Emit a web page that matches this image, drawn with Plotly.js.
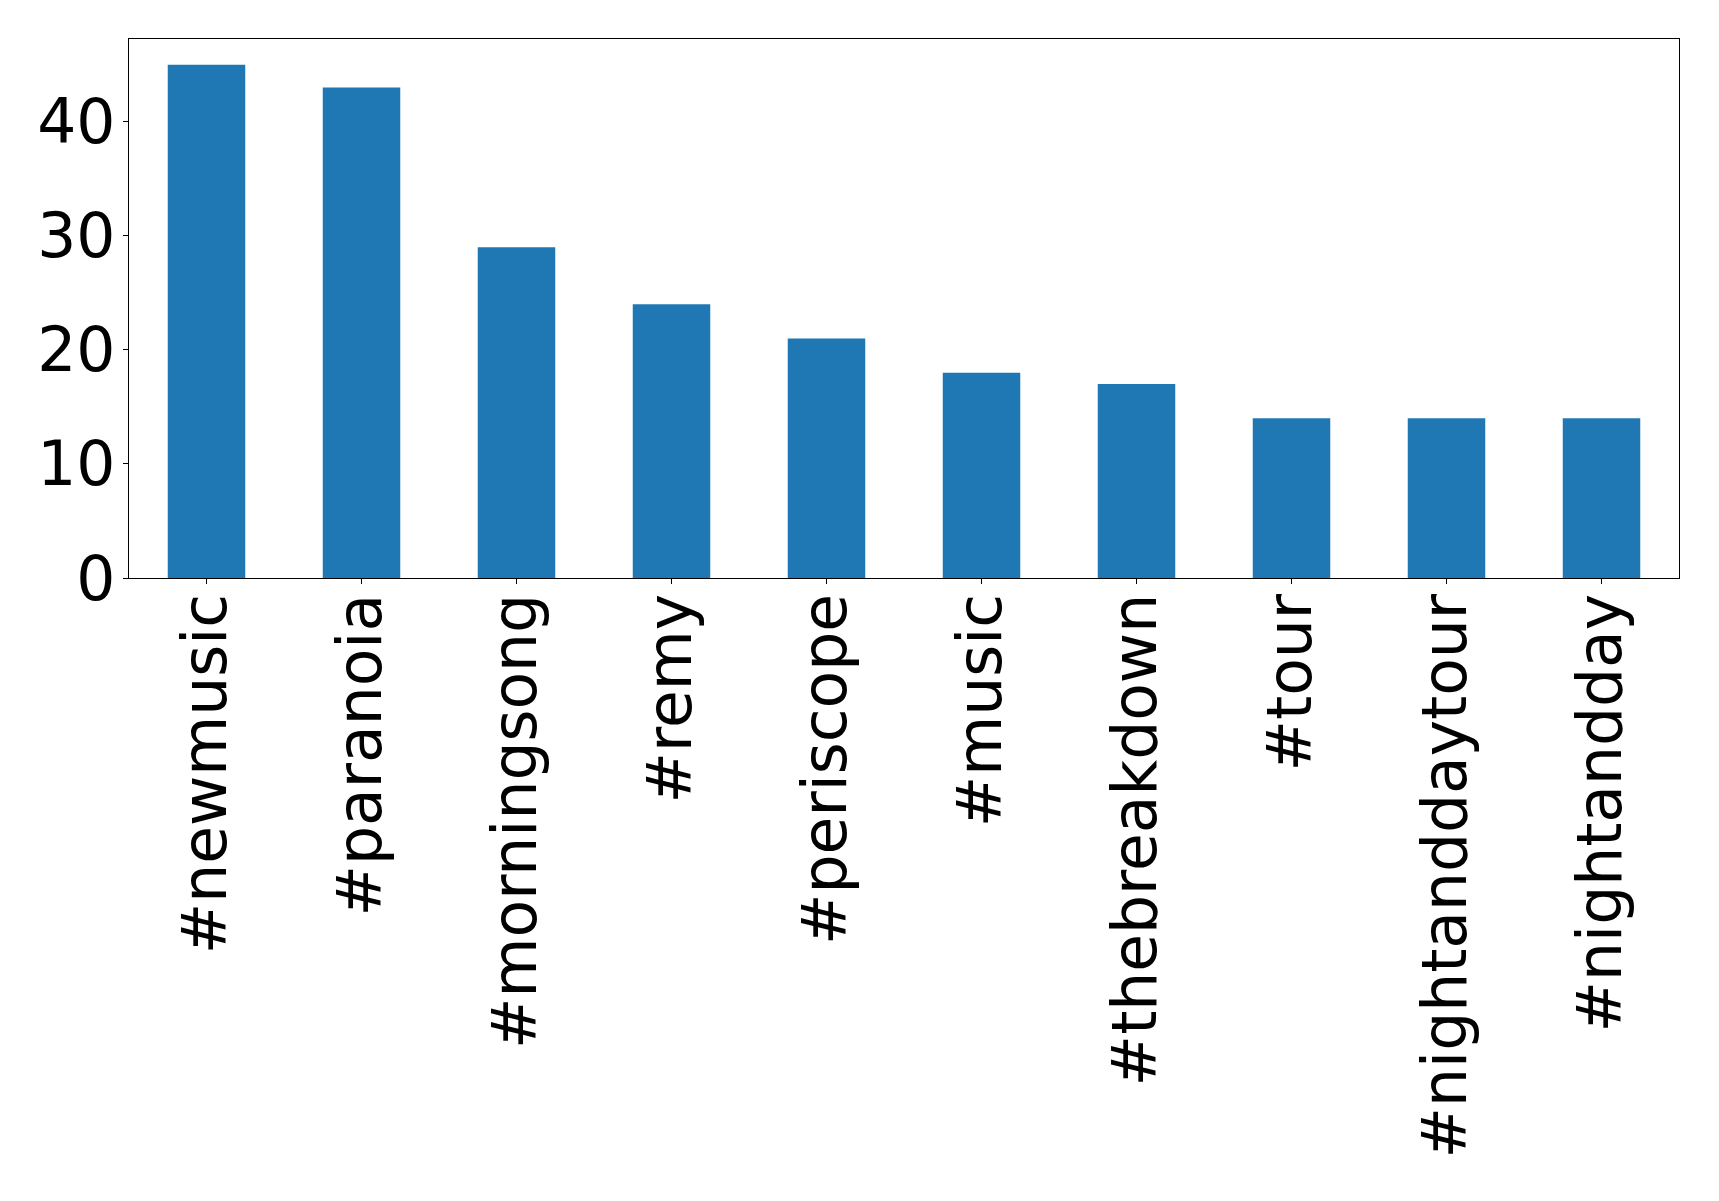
<!DOCTYPE html>
<html>
<head>
<meta charset="utf-8">
<script src="https://cdn.plot.ly/plotly-3.0.1.min.js"></script>
<style>html,body{margin:0;padding:0;background:#fff;}</style>
</head>
<body>
<div id="chart" style="width:1719px;height:1201px;"></div>
<script>
const hashtags = ["#newmusic", "#paranoia", "#morningsong", "#remy", "#periscope", "#music", "#thebreakdown", "#tour", "#nightanddaytour", "#nightandday"];
const counts = [45, 43, 29, 24, 21, 18, 17, 14, 14, 14];
const yTicks = [0, 10, 20, 30, 40];

const trace = {
  type: "bar",
  x: hashtags,
  y: counts,
  width: 0.5,
  marker: {color: "#1f77b4", line: {width: 0}},
  hoverinfo: "x+y"
};

const font = {family: "DejaVu Sans, sans-serif", size: 61.5, color: "#000"};

const layout = {
  width: 1719,
  height: 1201,
  margin: {l: 129, r: 40, t: 39, b: 623, pad: 0},
  paper_bgcolor: "#fff",
  plot_bgcolor: "#fff",
  showlegend: false,
  font: font,
  xaxis: {
    type: "category",
    range: [-0.5, 9.5],
    tickangle: -90,
    ticks: "outside",
    ticklen: 5,
    tickwidth: 1,
    tickcolor: "#000",
    ticklabelstandoff: -15,
    showline: true,
    linecolor: "#000",
    linewidth: 1.3,
    mirror: true,
    showgrid: false,
    zeroline: false,
    tickfont: font
  },
  yaxis: {
    range: [0, 47.25],
    tickvals: yTicks,
    ticktext: yTicks.map(String),
    ticks: "outside",
    ticklen: 5,
    tickwidth: 1,
    tickcolor: "#000",
    ticklabelstandoff: -5,
    showline: true,
    linecolor: "#000",
    linewidth: 1.3,
    mirror: true,
    showgrid: false,
    zeroline: false,
    tickfont: font
  }
};

Plotly.newPlot("chart", [trace], layout, {displayModeBar: false, staticPlot: true});
</script>
</body>
</html>
